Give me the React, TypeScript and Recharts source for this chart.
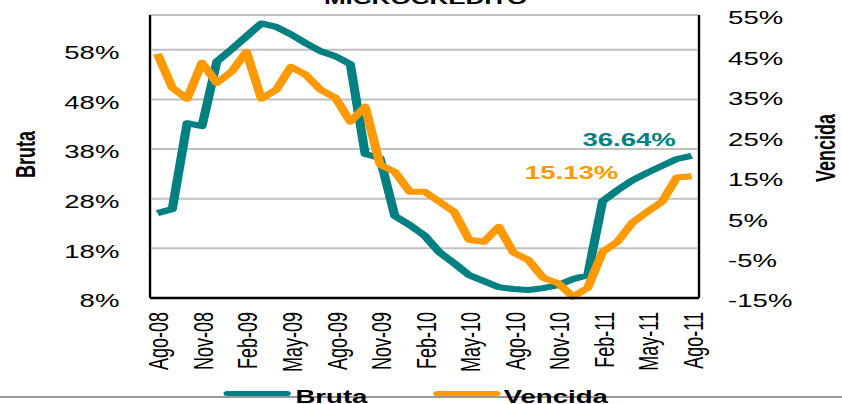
// Microcrédito: cartera bruta vs. vencida, variación anual
import { CartesianGrid, Legend, LabelList, Line, LineChart, XAxis, YAxis } from "recharts";

const MONTHS = [
  "Ago-08", "Sep-08", "Oct-08", "Nov-08", "Dic-08", "Ene-09", "Feb-09", "Mar-09", "Abr-09",
  "May-09", "Jun-09", "Jul-09", "Ago-09", "Sep-09", "Oct-09", "Nov-09", "Dic-09", "Ene-10",
  "Feb-10", "Mar-10", "Abr-10", "May-10", "Jun-10", "Jul-10", "Ago-10", "Sep-10", "Oct-10",
  "Nov-10", "Dic-10", "Ene-11", "Feb-11", "Mar-11", "Abr-11", "May-11", "Jun-11", "Jul-11",
  "Ago-11",
];

// eje izquierdo (Bruta)
const BRUTA = [
  25.1, 25.9, 43.2, 42.6, 55.6, 58.1, 60.7, 63.3, 62.6, 61.1, 59.3, 57.7, 56.7, 55.1, 37.0,
  36.2, 24.5, 22.7, 20.6, 17.2, 15.0, 12.6, 11.4, 10.2, 9.8, 9.6, 10.0, 10.6, 11.8, 12.6,
  27.5, 29.7, 31.7, 33.2, 34.6, 36.0, 36.64,
];

// eje derecho (Vencida)
const VENCIDA = [
  45.4, 37.0, 34.3, 43.2, 38.2, 41.0, 45.9, 34.3, 36.5, 42.2, 40.2, 36.5, 34.5, 28.6, 32.3,
  18.0, 16.2, 11.3, 11.3, 8.8, 6.3, -0.6, -1.1, 2.6, -3.8, -5.6, -10.0, -11.3, -14.7, -12.5,
  -3.6, -1.1, 3.6, 6.3, 8.8, 14.8, 15.13,
];

const LEFT_TICKS = [8, 18, 28, 38, 48, 58];
const RIGHT_TICKS = [-15, -5, 5, 15, 25, 35, 45, 55];
const MONTH_TICKS = [0, 3, 6, 9, 12, 15, 18, 21, 24, 27, 30, 33, 36];
const GRID_TICKS = MONTH_TICKS.slice(1).map((t) => t - 0.5);

const TEAL = "#008080";
const ORANGE = "#ff9900";
const FONT = '"Liberation Sans", Arial, sans-serif';

// el original está estirado a lo ancho, así que dibujamos angosto y escalamos
const W = 550;
const H = 404;
const STRETCH = 842 / W;

const data = MONTHS.map((m, i) => ({ i, month: m, bruta: BRUTA[i], vencida: VENCIDA[i] }));

function MonthTick({ x, y, payload }: any) {
  return (
    <text
      x={x}
      y={y}
      transform={`rotate(-90 ${x} ${y})`}
      textAnchor="end"
      dy="0.4em"
      fontSize={18}
      fontFamily={FONT}
      fill="#000"
    >
      {MONTHS[payload.value]}
    </text>
  );
}

// título vertical de cada eje
const sideTitle = (text: string, side: "left" | "right", inset: number, shift: number) => (props: any) => {
  const vb = props.viewBox || {};
  const x = side === "left" ? vb.x + inset : vb.x + vb.width - inset;
  const y = vb.y + vb.height / 2 + shift;
  return (
    <text
      x={x}
      y={y}
      transform={`rotate(-90 ${x} ${y})`}
      textAnchor="middle"
      dominantBaseline="central"
      fontSize={18}
      fontWeight="bold"
      fontFamily={FONT}
      fill="#000"
    >
      {text}
    </text>
  );
};

// etiqueta solo en el último punto
const endLabel = (dx: number, dy: number, color: string) => (props: any) => {
  const { x, y, index, value } = props;
  if (index !== MONTHS.length - 1) return null;
  return (
    <text x={x + dx} y={y + dy} textAnchor="middle" fontSize={18} fontWeight="bold" fontFamily={FONT} fill={color}>
      {Number(value).toFixed(2)}%
    </text>
  );
};

function LegendBox() {
  const text = { position: "absolute" as const, top: 5, fontSize: 18, lineHeight: "18px", fontWeight: "bold" as const, color: "#000" };
  const swatch = { position: "absolute" as const, top: 8, height: 5, width: 44, borderRadius: 3 };
  return (
    <div style={{ position: "relative", width: W, height: 21, fontFamily: FONT }}>
      <span style={{ ...swatch, left: 145.6, background: TEAL }} />
      <span style={{ ...text, left: 193 }}>Bruta</span>
      <span style={{ ...swatch, left: 283, background: ORANGE }} />
      <span style={{ ...text, left: 329 }}>Vencida</span>
    </div>
  );
}

export default function App() {
  return (
    <div style={{ position: "absolute", left: 0, top: 0, width: 842, height: H, overflow: "hidden", background: "#fff" }}>
      <div style={{ position: "absolute", left: 0, top: 0, width: W, height: H, transform: `scaleX(${STRETCH})`, transformOrigin: "0 0" }}>
        <div style={{ position: "absolute", left: 0, top: 396, width: W, height: 2, background: "#999" }} />
        <div
          style={{
            position: "absolute",
            left: 0,
            top: -10,
            width: 556,
            textAlign: "center",
            fontFamily: FONT,
            fontWeight: "bold",
            fontSize: 17,
            lineHeight: "17px",
          }}
        >
          MICROCREDITO
        </div>
        <LineChart width={W} height={H} data={data} margin={{ top: 15, right: 0, left: 0, bottom: 0 }}>
          <CartesianGrid xAxisId="grid" yAxisId="left" stroke="#c0c0c0" strokeWidth={2} />
          <XAxis
            dataKey="i"
            type="number"
            domain={[-0.5, 36.5]}
            ticks={MONTH_TICKS}
            tick={<MonthTick />}
            tickLine={false}
            tickSize={0}
            tickMargin={14}
            interval={0}
            height={85}
            axisLine={{ stroke: "#000", strokeWidth: 2.5 }}
          />
          <XAxis
            xAxisId="grid"
            orientation="top"
            dataKey="i"
            type="number"
            domain={[-0.5, 36.5]}
            ticks={GRID_TICKS}
            tick={false}
            tickLine={false}
            height={0}
            axisLine={{ stroke: "#333", strokeWidth: 1.2 }}
          />
          <YAxis
            yAxisId="left"
            domain={[8, 65]}
            ticks={LEFT_TICKS}
            tickFormatter={(v) => `${v}%`}
            width={98}
            tickLine={false}
            tickSize={0}
            tickMargin={20}
            tick={{ fontSize: 18, fill: "#000", fontFamily: FONT, dy: 3 }}
            axisLine={{ stroke: "#000", strokeWidth: 1.4 }}
            label={sideTitle("Bruta", "left", 17, -2)}
          />
          <YAxis
            yAxisId="right"
            orientation="right"
            domain={[-15, 55]}
            ticks={RIGHT_TICKS}
            tickFormatter={(v) => `${v}%`}
            width={93.4}
            tickLine={false}
            tickSize={0}
            tickMargin={19}
            tick={{ fontSize: 18, fill: "#000", fontFamily: FONT, textAnchor: "start", dy: 3 }}
            axisLine={{ stroke: "#000", strokeWidth: 1.4 }}
            label={sideTitle("Vencida", "right", 10.5, -8.5)}
          />
          <Legend
            verticalAlign="bottom"
            content={<LegendBox />}
            wrapperStyle={{ left: 0, top: 383, width: W, height: 21 }}
          />
          <Line
            yAxisId="left"
            type="linear"
            dataKey="bruta"
            name="Bruta"
            stroke={TEAL}
            strokeWidth={6}
            strokeLinejoin="round"
            dot={false}
            isAnimationActive={false}
          >
            <LabelList dataKey="bruta" content={endLabel(-40.8, -10, TEAL)} />
          </Line>
          <Line
            yAxisId="right"
            type="linear"
            dataKey="vencida"
            name="Vencida"
            stroke={ORANGE}
            strokeWidth={6}
            strokeLinejoin="round"
            dot={false}
            isAnimationActive={false}
          >
            <LabelList dataKey="vencida" content={endLabel(-78.4, 2.5, ORANGE)} />
          </Line>
        </LineChart>
      </div>
    </div>
  );
}
